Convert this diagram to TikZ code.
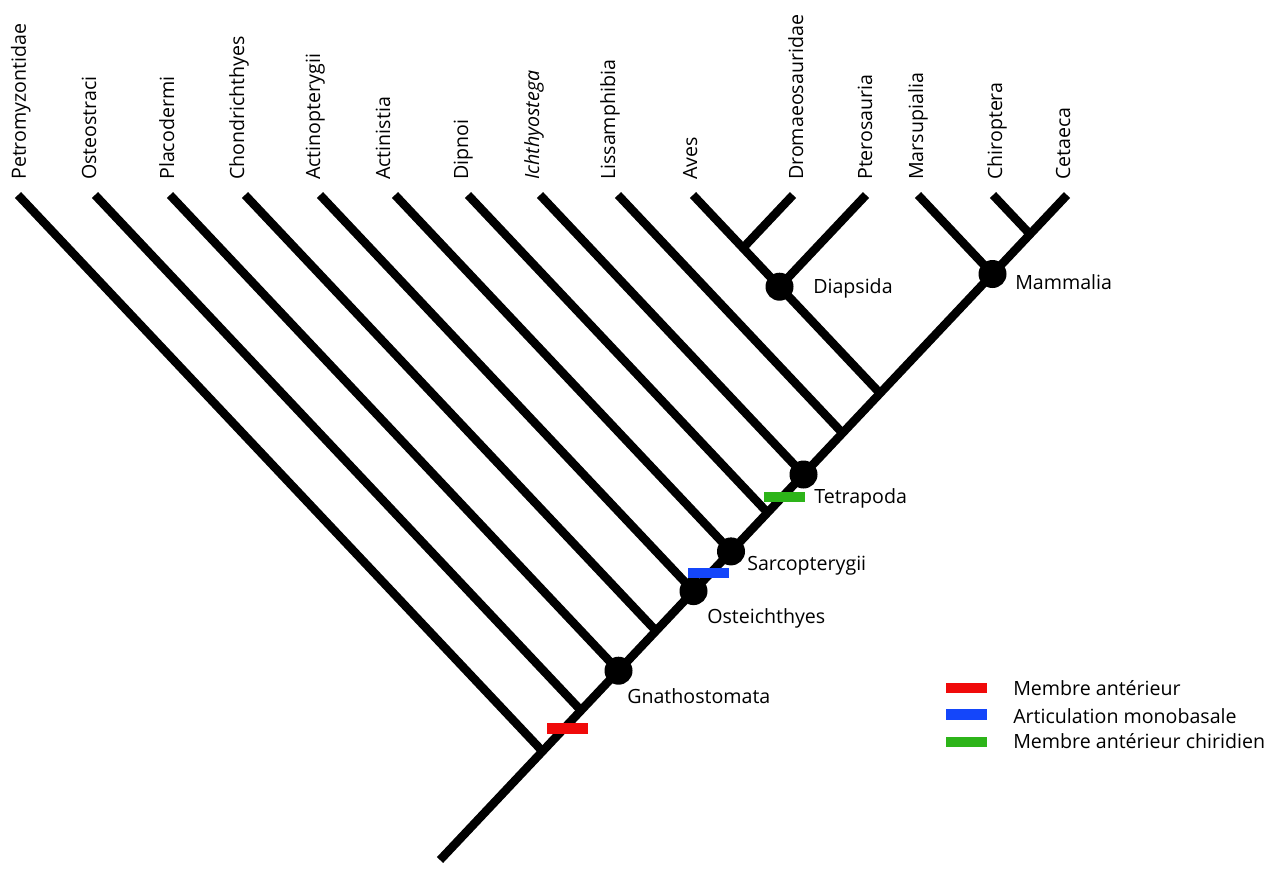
\documentclass[tikz,border=0pt]{standalone}
\usepackage{fontspec}
\setmainfont{Open Sans}
\definecolor{cred}{RGB}{240,10,10}
\definecolor{cblue}{RGB}{20,70,250}
\definecolor{cgreen}{RGB}{45,180,25}
\begin{document}
\begin{tikzpicture}[x=0.75pt,y=-0.75pt,
  branch/.style={line width=6.4pt,black},
  dot/.style={circle,fill=black,inner sep=0pt,minimum size=21pt},
  vlab/.style={rotate=90,anchor=base west,inner sep=0pt,font=\fontsize{14.7}{17}\selectfont},
  hlab/.style={anchor=base west,inner sep=0pt,font=\fontsize{14.7}{17}\selectfont},
  bar/.style={inner sep=0pt,minimum width=30.75pt,minimum height=7.9pt}]
\useasboundingbox (0,0) rectangle (1280,871);
% coordinates
\coordinate (root) at (440,860);
\coordinate (top) at (1067,195);
\coordinate (t1) at (18,195);   \coordinate (j1) at (542.5,751.3);
\coordinate (t2) at (95,195);   \coordinate (j2) at (581,710.5);
\coordinate (t3) at (170,195);  \coordinate (j3) at (618.5,670.7);
\coordinate (t4) at (245,195);  \coordinate (j4) at (656,630.9);
\coordinate (t5) at (320,195);  \coordinate (j5) at (693.5,591.1);
\coordinate (t6) at (395,195);  \coordinate (j6) at (731,551.4);
\coordinate (t7) at (468,195);  \coordinate (j7) at (767.5,512.6);
\coordinate (t8) at (540,195);  \coordinate (j8) at (803.5,474.5);
\coordinate (t9) at (618,195);  \coordinate (j9) at (842.5,433.1);
\coordinate (t10) at (693,195); \coordinate (j10) at (880,393.3);
\coordinate (tdro) at (793,195); \coordinate (jdro) at (743,248);
\coordinate (tpte) at (866,195); \coordinate (jdia) at (779.5,286.7);
\coordinate (tmar) at (918,195); \coordinate (jmam) at (992.5,274);
\coordinate (tchi) at (993,195); \coordinate (jchi) at (1030,234.2);
% branches
\draw[branch] (root) -- (top);
\foreach \i in {1,...,10} {\draw[branch] (t\i) -- (j\i);}
\draw[branch] (tdro) -- (jdro);
\draw[branch] (tpte) -- (jdia);
\draw[branch] (tmar) -- (jmam);
\draw[branch] (tchi) -- (jchi);
% nodes
\node[dot] (gna) at (j3) {};
\node[dot] (ost) at (j5) {};
\node[dot] (sar) at (j6) {};
\node[dot] (tet) at (j8) {};
\node[dot] (dia) at (jdia) {};
\node[dot] (mam) at (jmam) {};
% bars
\node[bar,fill=cred] (bred) at (567,728.5) {};
\node[bar,fill=cblue] (bblue) at (708.5,573) {};
\node[bar,fill=cgreen] (bgreen) at (784.5,497) {};
% node labels
\node[hlab] (lgna) at (627,703) {Gnathostomata};
\node[hlab] (lost) at (707,623) {Osteichthyes};
\node[hlab] (lsar) at (747,570) {Sarcopterygii};
\node[hlab] (ltet) at (814,503) {Tetrapoda};
\node[hlab] (ldia) at (813,293) {Diapsida};
\node[hlab] (lmam) at (1015,289) {Mammalia};
% leaf labels
\node[vlab] (l1) at (26,180) {Petromyzontidae};
\node[vlab] (l2) at (96,180) {Osteostraci};
\node[vlab] (l3) at (174,180) {Placodermi};
\node[vlab] (l4) at (244,180) {Chondrichthyes};
\node[vlab] (l5) at (320,180) {Actinopterygii};
\node[vlab] (l6) at (390,180) {Actinistia};
\node[vlab] (l7) at (468,180) {Dipnoi};
\node[vlab] (l8) at (539,180) {\itshape Ichthyostega};
\node[vlab] (l9) at (615,180) {Lissamphibia};
\node[vlab] (l10) at (697,180) {Aves};
\node[vlab] (l11) at (803,180) {Dromaeosauridae};
\node[vlab] (l12) at (872,180) {Pterosauria};
\node[vlab] (l13) at (923,180) {Marsupialia};
\node[vlab] (l14) at (1002,180) {Chiroptera};
\node[vlab] (l15) at (1070,180) {Cetaeca};
% legend
\node[bar,fill=cred] (kred) at (966.5,688) {};
\node[bar,fill=cblue] (kblue) at (966.5,714.5) {};
\node[bar,fill=cgreen] (kgreen) at (966.5,742) {};
\node[hlab] (tred) at (1013,695) {Membre antérieur};
\node[hlab] (tblue) at (1013,723) {Articulation monobasale};
\node[hlab] (tgreen) at (1013,748) {Membre antérieur chiridien};
\end{tikzpicture}
\end{document}
